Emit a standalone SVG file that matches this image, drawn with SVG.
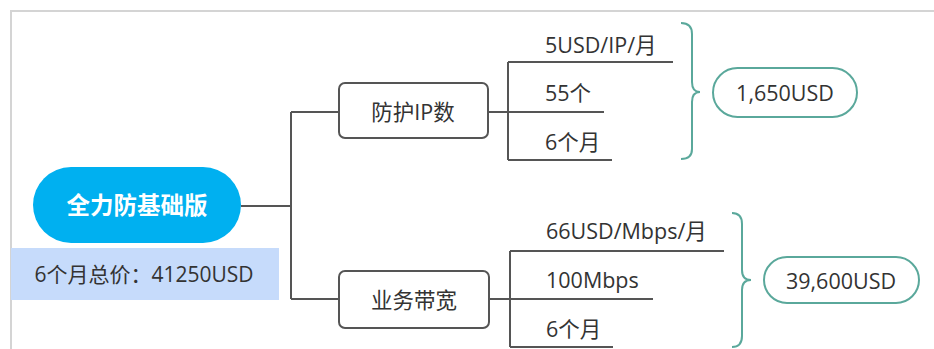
<svg xmlns="http://www.w3.org/2000/svg" width="934" height="349" viewBox="0 0 934 349">
<style>
.t{font-family:"Open Sans","Noto Sans CJK SC",sans-serif;font-size:21.5px;fill:#333;}
.c{text-anchor:middle;dominant-baseline:central;}
.ln{fill:none;stroke:#555;stroke-width:2;}
.br{fill:none;stroke:#5aa89b;stroke-width:2;}
.box{fill:#fff;stroke:#555;stroke-width:2;}
.pill{fill:#fff;stroke:#5aa89b;stroke-width:2;}
</style>
<rect width="934" height="349" fill="#fff"/>
<path d="M11,349 L11,11 L934,11" fill="none" stroke="#d4d4d4" stroke-width="2"/>
<g id="connectors">
<path class="ln" d="M241,206 H291 M291,112 V299 M291,112 H339 M291,299 H339"/>
<path class="ln" d="M488,112 H508 M508,62 V160 M508,62 H673 M508,112 H604 M508,160 H612"/>
<path class="ln" d="M489,299 H510 M510,251 V347 M510,251 H724 M510,299 H653 M510,347 H613"/>
<path class="br" d="M681,23 Q692,23 692,34 L692,82 Q692,92 700,92 Q692,92 692,102 L692,149 Q692,159 681,159"/>
<path class="br" d="M732,213 Q742,213 742,224 L742,270 Q742,280 751,280 Q742,280 742,290 L742,336 Q742,347 732,347"/>
</g>
<g id="root">
<rect x="33" y="167" width="208" height="76" rx="38" fill="#00b0f0"/>
<text class="t c" x="137" y="205" style="fill:#fff;font-weight:bold;font-size:23.5px">全力防基础版</text>
</g>
<g id="total">
<rect x="11" y="248" width="268" height="52" fill="#c6dbfb"/>
<text class="t c" x="144" y="274" style="font-size:21px">6个月总价：41250USD</text>
</g>
<g id="ipnode">
<rect class="box" x="339" y="83" width="149" height="55" rx="6"/>
<text class="t c" x="413" y="111">防护IP数</text>
</g>
<g id="bwnode">
<rect class="box" x="339" y="271" width="150" height="57" rx="6"/>
<text class="t c" x="414" y="299">业务带宽</text>
</g>
<g id="ip-items">
<text class="t" x="545" y="53">5USD/IP/月</text>
<text class="t" x="545" y="101">55个</text>
<text class="t" x="545" y="150">6个月</text>
</g>
<g id="bw-items">
<text class="t" x="546" y="239">66USD/Mbps/月</text>
<text class="t" x="546" y="288">100Mbps</text>
<text class="t" x="546" y="337">6个月</text>
</g>
<g id="sum1">
<rect class="pill" x="713" y="68" width="144" height="49" rx="24.5"/>
<text class="t c" x="785" y="92">1,650USD</text>
</g>
<g id="sum2">
<rect class="pill" x="764" y="257" width="155" height="46" rx="23"/>
<text class="t c" x="841" y="280">39,600USD</text>
</g>
</svg>
